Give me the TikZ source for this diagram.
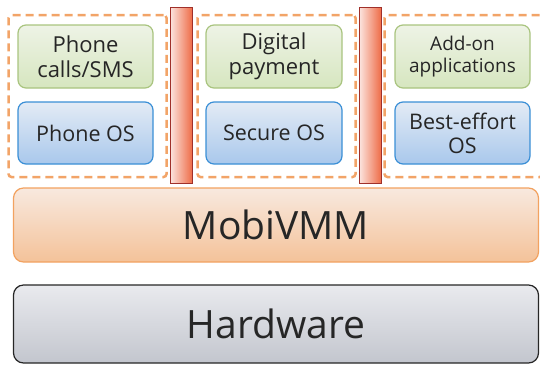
\documentclass[tikz,border=0pt]{standalone}
\usepackage{fontspec}
\setmainfont{Open Sans}
\usepackage{tikz}
\usepackage{xcolor}
\usetikzlibrary{positioning}
\definecolor{appline}{HTML}{A9C47F}
\definecolor{apptop}{HTML}{EEF3E6}
\definecolor{appbot}{HTML}{D6E6BF}
\definecolor{osline}{HTML}{3A8FD6}
\definecolor{ostop}{HTML}{E3EBF5}
\definecolor{osbot}{HTML}{A9C8EC}
\definecolor{barline}{HTML}{A0302A}
\definecolor{barleft}{HTML}{FBE3DD}
\definecolor{barright}{HTML}{EE6A45}
\definecolor{domline}{HTML}{F2A468}
\definecolor{vmmline}{HTML}{F2A260}
\definecolor{vmmtop}{HTML}{F8E9DF}
\definecolor{vmmbot}{HTML}{F4C299}
\definecolor{hwtop}{HTML}{E9EAEE}
\definecolor{hwbot}{HTML}{C3C6CE}
\definecolor{txt}{HTML}{262626}
\tikzset{
    app/.style={rectangle, rounded corners=8pt, draw=appline, line width=1.2pt, top color=apptop, bottom color=appbot, minimum width=135pt, minimum height=63pt, align=center, text=txt, font=\fontsize{22}{25}\selectfont, inner sep=0pt},
    guest/.style={rectangle, rounded corners=8pt, draw=osline, line width=1.2pt, top color=ostop, bottom color=osbot, minimum width=135pt, minimum height=62pt, align=center, text=txt, font=\fontsize{21.5}{24}\selectfont, inner sep=0pt},
    vmdomain/.style={rectangle, rounded corners=3pt, draw=domline, dash pattern=on 8pt off 5pt, line width=2.5pt, minimum width=158pt, minimum height=162pt, inner sep=0pt},
    wall/.style={rectangle, draw=barline, line width=1.6pt, left color=barleft, right color=barright, minimum width=22pt, minimum height=176pt, inner sep=0pt},
    layerbox/.style={rectangle, rounded corners=10pt, line width=1.2pt, minimum width=525pt, text=txt, font=\fontsize{39}{44}\selectfont, inner sep=0pt}
}
\begin{document}
\begin{tikzpicture}[x=1pt, y=-1pt]
\useasboundingbox (0,0) rectangle (540,365);

% Domains
\node[vmdomain] (dom1) at (87.5,96) {};
\node[vmdomain] (dom2) at (276.5,96) {};
\node[vmdomain] (dom3) at (463.5,96) {};

% Applications
\node[app] (calls) at (85.5,56.5) {Phone\\calls/SMS};
\node[app, minimum width=136pt] (payment) at (274,56.5) {Digital\\payment};
\node[app, font=\fontsize{19}{22}\selectfont] (addon) at (462.5,56.5) {Add-on\\applications};

% Guest OSes
\node[guest] (phoneos) at (85.5,133) {Phone OS};
\node[guest, minimum width=136pt] (secureos) at (274,133) {Secure OS};
\node[guest] (bestos) at (462.5,133) {Best-effort\\OS};

% Isolation walls
\node[wall] (wall1) at (181.5,95.5) {};
\node[wall] (wall2) at (370.5,95.5) {};

% Layers
\node[layerbox, draw=vmmline, top color=vmmtop, bottom color=vmmbot, minimum height=74pt] (vmm) at (276,225) {MobiVMM};
\node[layerbox, draw=black!85, top color=hwtop, bottom color=hwbot, minimum height=78pt] (hw) at (276,324) {Hardware};
\end{tikzpicture}
\end{document}
